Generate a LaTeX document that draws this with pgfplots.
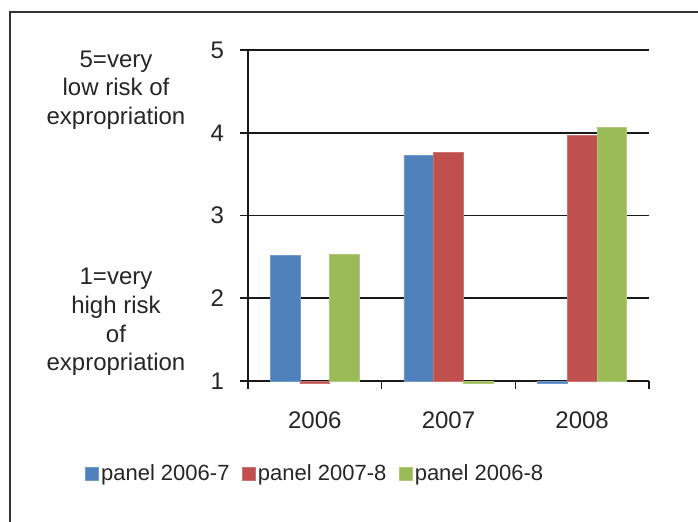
\documentclass[border=0pt]{standalone}
\usepackage{fontspec}
\setmainfont{Liberation Sans}
\usepackage{pgfplots}
\pgfplotsset{compat=1.18}
\definecolor{cblue}{HTML}{4F81BD}
\definecolor{cred}{HTML}{C0504D}
\definecolor{cgreen}{HTML}{9BBB59}
\begin{document}
\begin{tikzpicture}
\useasboundingbox (-124pt,-70pt) rectangle (225pt,190.5pt);
\draw[line width=0.75pt, black!80] (-119pt,-75pt) -- (-119pt,184.5pt) -- (230pt,184.5pt);
\begin{axis}[
  at={(0pt,0pt)}, anchor=south west,
  scale only axis, width=200.5pt, height=165.5pt,
  ybar=0pt, bar width=14.85pt,
  xmin=-0.5, xmax=2.5,
  ymin=0, ymax=4,
  clip=false,
  axis x line*=bottom, axis y line*=left,
  axis line style={line width=0.8pt, black!90},
  xtick={-0.5,0.5,1.5,2.5},
  x tick label as interval,
  xticklabels={2006,2007,2008},
  ytick={0,1,2,3,4},
  yticklabels={1,2,3,4,5},
  ymajorgrids,
  grid style={line width=0.8pt, black!90},
  tick align=outside,
  major tick length=4pt,
  tick style={line width=0.8pt, black!90},
  ticklabel style={font=\fontsize{12}{14}\selectfont, text=black!85},
  yticklabel style={xshift=-4.5pt},
  xticklabel style={yshift=-8pt},
  y filter/.expression={y-1},
  legend columns=3,
  legend style={draw=none, fill=none, at={(0.168,-0.28)}, anchor=center,
    font=\fontsize{11}{13}\selectfont, text=black!85,
    nodes={inner sep=1.2pt},
    /tikz/every even column/.append style={column sep=5pt}},
  legend image code/.code={\fill[#1] (0pt,-3.25pt) rectangle (6.5pt,3.25pt);},
]
\addplot[fill=cblue, draw=cblue!80!white, line width=0.3pt] coordinates {(0,2.52) (1,3.73) (2,0.97)};
\addplot[fill=cred, draw=cred!80!white, line width=0.3pt] coordinates {(0,0.97) (1,3.76) (2,3.97)};
\addplot[fill=cgreen, draw=cgreen!80!white, line width=0.3pt] coordinates {(0,2.53) (1,0.97) (2,4.06)};
\legend{panel 2006-7, panel 2007-8, panel 2006-8}
\end{axis}
\node[align=center, font=\fontsize{12}{14.3}\selectfont, text=black!85] at (-66pt,145.5pt) {5=very\\low risk of\\expropriation};
\node[align=center, font=\fontsize{12}{14.3}\selectfont, text=black!85] at (-66pt,29.5pt) {1=very\\high risk\\of\\expropriation};
\end{tikzpicture}
\end{document}
